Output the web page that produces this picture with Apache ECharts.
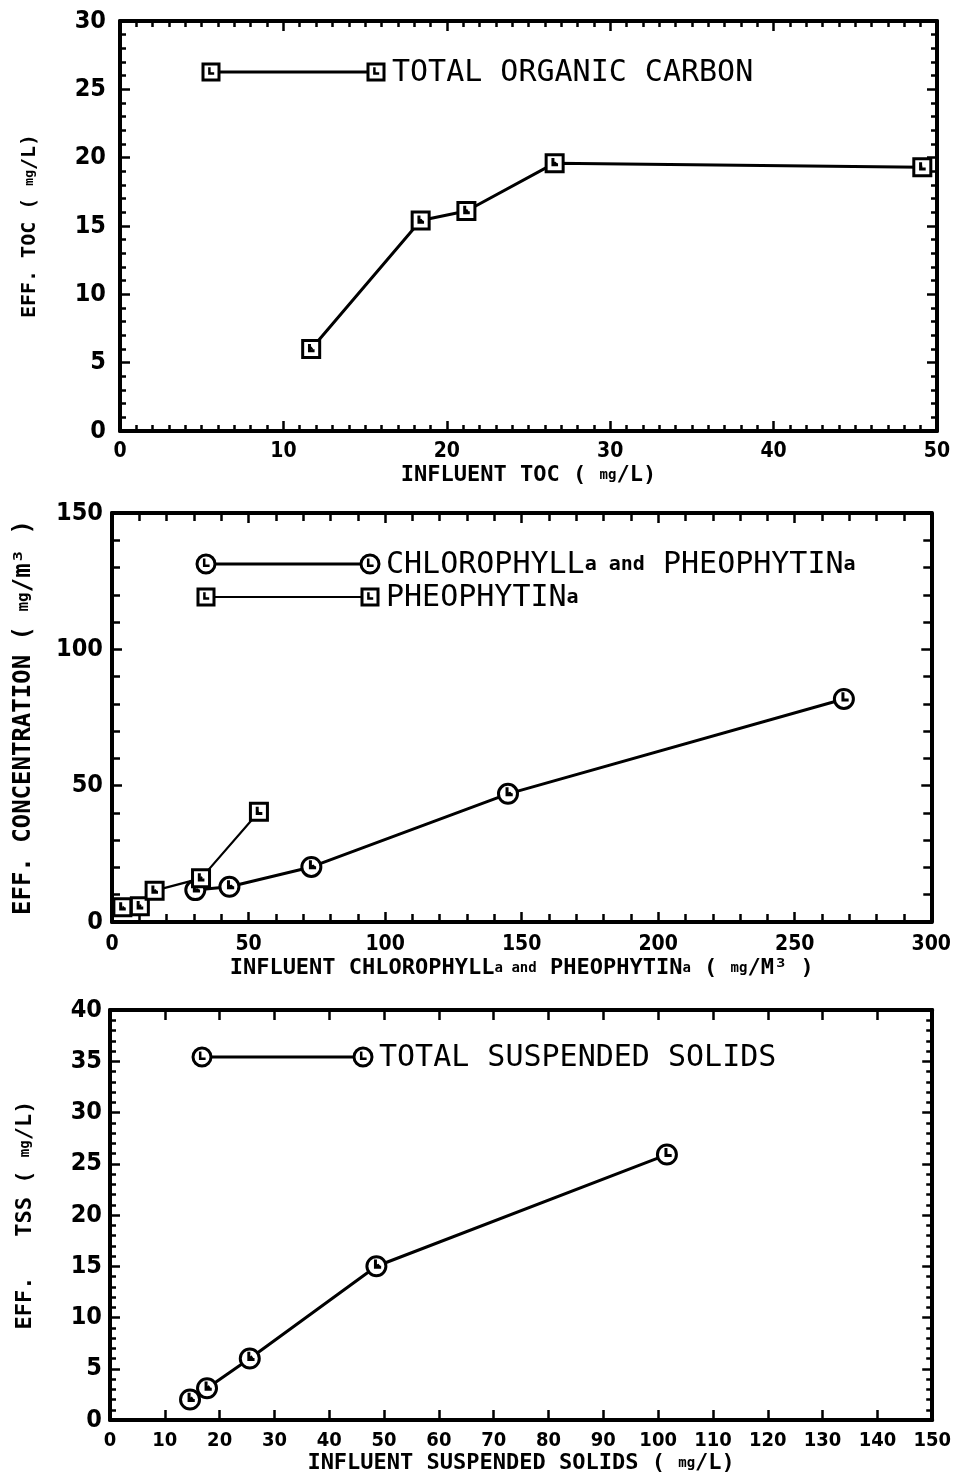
<!DOCTYPE html>
<html>
<head>
<meta charset="utf-8">
<script src="https://cdn.jsdelivr.net/npm/echarts@6/dist/echarts.min.js"></script>
<style>
  html, body { margin: 0; padding: 0; background: #fff; }
  #chart { width: 954px; height: 1478px; }
</style>
</head>
<body>
<div id="chart"></div>
<script>
// Effluent vs influent water-quality measurements (three panels)
const tocInfluent = [11.7, 18.4, 21.2, 26.6, 49.1];
const tocEffluent = [6.0, 15.4, 16.1, 19.6, 19.3];

const chlInfluent = [30.5, 43.0, 73.0, 145.0, 268.0];
const chlEffluent = [11.7, 12.9, 20.2, 47.0, 81.8];

const pheoInfluent = [3.8, 10.2, 15.6, 32.6, 53.8];
const pheoEffluent = [5.4, 5.8, 11.5, 16.0, 40.4];

const tssInfluent = [14.6, 17.7, 25.5, 48.6, 101.6];
const tssEffluent = [2.0, 3.1, 6.0, 15.0, 25.9];

const seriesNames = ['TOTAL ORGANIC CARBON', 'CHLOROPHYLLa and PHEOPHYTINa', 'PHEOPHYTINa', 'TOTAL SUSPENDED SOLIDS'];

const pair = (xs, ys) => xs.map((x, i) => [x, ys[i]]);

// plotter-style markers: outlined shape with a small inner tick
const SQUARE = 'M0,0H20V20H0Z M8,4V12H14';
const CIRCLE = 'M20,10A10,10,0,1,1,0,10A10,10,0,1,1,20,10Z M9,3V11H15';

const LABEL_FONT = "'Liberation Sans Narrow','DejaVu Sans Condensed','Liberation Sans',sans-serif";
const MONO = "'DejaVu Sans Mono','Liberation Mono',monospace";

function nameStyle(size) {
  return {
    fontFamily: MONO, fontWeight: 'bold', fontSize: size, color: '#000',
    rich: { s: { fontFamily: MONO, fontWeight: 'bold', fontSize: Math.round(size * 0.65), color: '#000' } }
  };
}

function frameAxis(extra) {
  return Object.assign({
    type: 'value',
    axisLine: { show: true, onZero: false, lineStyle: { color: '#000', width: 4 } },
    axisTick: { show: true, inside: true, length: 10, lineStyle: { color: '#000', width: 2.5 } },
    minorTick: { show: false },
    splitLine: { show: false },
    axisLabel: { show: false }
  }, extra);
}

function minor(n, len) {
  return { show: true, splitNumber: n, length: len || 6, lineStyle: { color: '#000', width: 2.5 } };
}

function tickLabel(size, margin) {
  return { show: true, fontFamily: LABEL_FONT, fontWeight: 'bold', fontSize: size, color: '#000', margin: margin };
}

const grids = [
  { left: 120, top: 21, width: 817, height: 410 },
  { left: 112, top: 513, width: 825, height: 409 },
  { left: 110, top: 1010, width: 823, height: 410 }
];

const xAxes = [
  // panel 1
  frameAxis({ gridIndex: 0, position: 'bottom', min: 0, max: 50, interval: 10,
    minorTick: minor(10), axisLabel: tickLabel(21, 10),
    name: 'INFLUENT TOC ( {s|mg}/L)', nameLocation: 'middle', nameGap: 33, nameTextStyle: nameStyle(22) }),
  frameAxis({ gridIndex: 0, position: 'top', min: 0, max: 50, interval: 10, minorTick: minor(10) }),
  // panel 2
  frameAxis({ gridIndex: 1, position: 'bottom', min: 0, max: 300, interval: 50,
    minorTick: minor(5, 8), axisLabel: tickLabel(21, 12),
    name: 'INFLUENT CHLOROPHYLL{s|a and} PHEOPHYTIN{s|a} ( {s|mg}/M³ )', nameLocation: 'middle', nameGap: 35, nameTextStyle: nameStyle(22) }),
  frameAxis({ gridIndex: 1, position: 'top', min: 0, max: 300, interval: 50, minorTick: minor(5, 8) }),
  // panel 3
  frameAxis({ gridIndex: 2, position: 'bottom', min: 0, max: 150, interval: 10,
    axisLabel: tickLabel(20, 11),
    name: 'INFLUENT SUSPENDED SOLIDS ( {s|mg}/L)', nameLocation: 'middle', nameGap: 31, nameTextStyle: nameStyle(22) }),
  frameAxis({ gridIndex: 2, position: 'top', min: 0, max: 150, interval: 10 })
];

const yAxes = [
  frameAxis({ gridIndex: 0, position: 'left', min: 0, max: 30, interval: 5,
    minorTick: minor(5), axisLabel: tickLabel(25, 14),
    name: 'EFF. TOC ( {s|mg}/L)', nameLocation: 'middle', nameGap: 80, nameTextStyle: nameStyle(20) }),
  frameAxis({ gridIndex: 0, position: 'right', min: 0, max: 30, interval: 5, minorTick: minor(5) }),
  frameAxis({ gridIndex: 1, position: 'left', min: 0, max: 150, interval: 50,
    minorTick: minor(5, 8), axisLabel: tickLabel(25, 9),
    name: 'EFF. CONCENTRATION ( {s|mg}/m³ )', nameLocation: 'middle', nameGap: 76, nameTextStyle: nameStyle(24) }),
  frameAxis({ gridIndex: 1, position: 'right', min: 0, max: 150, interval: 50, minorTick: minor(5, 8) }),
  frameAxis({ gridIndex: 2, position: 'left', min: 0, max: 40, interval: 5,
    minorTick: minor(5), axisLabel: tickLabel(25, 8),
    name: 'EFF.   TSS ( {s|mg}/L)', nameLocation: 'middle', nameGap: 74, nameTextStyle: nameStyle(22) }),
  frameAxis({ gridIndex: 2, position: 'right', min: 0, max: 40, interval: 5, minorTick: minor(5) })
];

function lineSeries(name, data, xi, yi, path, size, width) {
  return {
    name: name,
    type: 'line',
    xAxisIndex: xi,
    yAxisIndex: yi,
    data: data,
    symbol: 'path://' + path,
    symbolSize: size,
    symbolKeepAspect: true,
    lineStyle: { color: '#000', width: width },
    itemStyle: { color: '#fff', borderColor: '#000', borderWidth: 3 },
    animation: false,
    z: 3
  };
}

const series = [
  lineSeries(seriesNames[0], pair(tocInfluent, tocEffluent), 0, 0, SQUARE, 17, 3),
  lineSeries(seriesNames[1], pair(chlInfluent, chlEffluent), 2, 2, CIRCLE, 19, 3),
  lineSeries(seriesNames[2], pair(pheoInfluent, pheoEffluent), 2, 2, SQUARE, 17, 2.2),
  lineSeries(seriesNames[3], pair(tssInfluent, tssEffluent), 4, 4, CIRCLE, 19, 3)
];

// in-plot key: marker, line, marker, label
function keyMark(kind, cx, cy, size) {
  const h = size / 2;
  const outline = kind === 'square'
    ? { type: 'rect', shape: { x: cx - h, y: cy - h, width: size, height: size } }
    : { type: 'circle', shape: { cx: cx, cy: cy, r: h } };
  outline.style = { fill: '#fff', stroke: '#000', lineWidth: 3 };
  outline.z = 10;
  const tick = {
    type: 'polyline', z: 11,
    shape: { points: [[cx - h * 0.2, cy - h * 0.6], [cx - h * 0.2, cy + h * 0.2], [cx + h * 0.4, cy + h * 0.2]] },
    style: { fill: null, stroke: '#000', lineWidth: 2.5 }
  };
  return [outline, tick];
}

function keyRow(kind, x1, x2, y, text, size, lw) {
  return [
    { type: 'line', shape: { x1: x1, y1: y, x2: x2, y2: y }, style: { stroke: '#000', lineWidth: lw }, z: 9 }
  ].concat(keyMark(kind, x1, y, size), keyMark(kind, x2, y, size), [{
    type: 'text', x: x2 + 16, y: y + 1, z: 10,
    style: {
      text: text, fill: '#000', fontFamily: MONO, fontSize: 30, verticalAlign: 'middle',
      rich: { s: { fontFamily: MONO, fontSize: 20, fontWeight: 'bold', fill: '#000' } }
    }
  }]);
}

const graphic = [].concat(
  keyRow('square', 211, 376, 72, 'TOTAL ORGANIC CARBON', 16, 3),
  keyRow('circle', 206, 370, 564, 'CHLOROPHYLL{s|a and} PHEOPHYTIN{s|a}', 18, 3),
  keyRow('square', 206, 370, 597, 'PHEOPHYTIN{s|a}', 16, 2.2),
  keyRow('circle', 202, 363, 1057, 'TOTAL SUSPENDED SOLIDS', 18, 3)
);

const chart = echarts.init(document.getElementById('chart'), null, { renderer: 'canvas' });
chart.setOption({
  backgroundColor: '#fff',
  animation: false,
  grid: grids,
  xAxis: xAxes,
  yAxis: yAxes,
  series: series,
  graphic: graphic
});
</script>
</body>
</html>
